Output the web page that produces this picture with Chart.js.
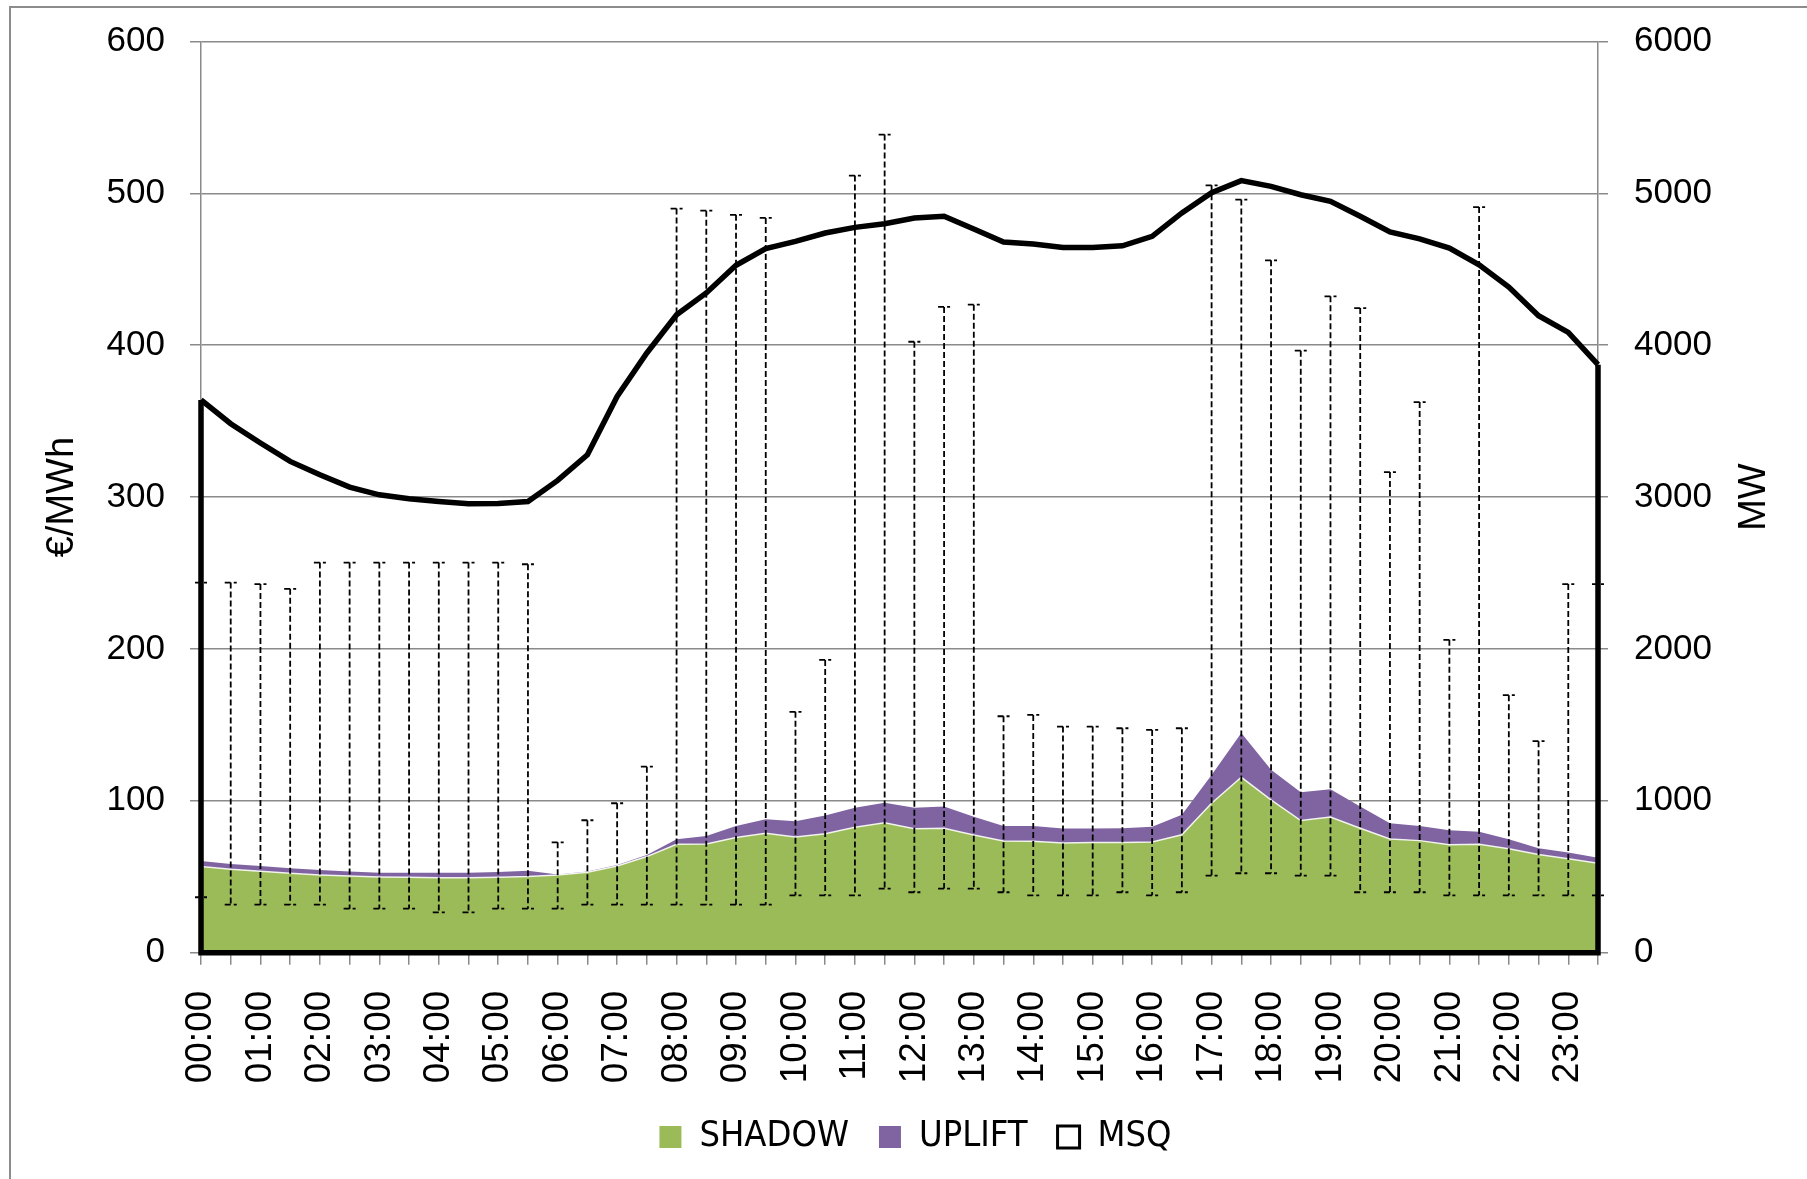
<!DOCTYPE html>
<html>
<head>
<meta charset="utf-8">
<script src="https://cdn.jsdelivr.net/npm/chart.js@4.4.1/dist/chart.umd.min.js"></script>
<style>
  html, body { margin: 0; padding: 0; background: #fff; overflow: hidden; }
  #wrap { position: relative; width: 1807px; height: 1179px; }
  #frame { position: absolute; left: 9px; top: 6px; width: 1900px; height: 1300px; border: 2px solid #8c8c8c; box-sizing: border-box; }
  #myChart { position: absolute; left: 0; top: 0; }
</style>
</head>
<body>
<div id="wrap">
  <div id="frame"></div>
  <canvas id="myChart" width="1807" height="1179"></canvas>
</div>
<script>
const horas = ['00:00','00:30','01:00','01:30','02:00','02:30','03:00','03:30','04:00','04:30','05:00','05:30',
  '06:00','06:30','07:00','07:30','08:00','08:30','09:00','09:30','10:00','10:30','11:00','11:30',
  '12:00','12:30','13:00','13:30','14:00','14:30','15:00','15:30','16:00','16:30','17:00','17:30',
  '18:00','18:30','19:00','19:30','20:00','20:30','21:00','21:30','22:00','22:30','23:00','23:30'];

/* €/MWh */
const shadow = [56.7, 54.9, 53.6, 52.3, 51.2, 50.5, 49.9, 49.7, 49.4, 49.4, 49.7, 50.1,
  51.2, 53.0, 57.1, 63.3, 71.4, 71.6, 75.8, 78.6, 76.2, 78.4, 82.6, 85.6,
  81.7, 81.9, 77.5, 73.6, 73.4, 72.3, 72.5, 72.6, 72.9, 77.7, 98.4, 115.5,
  100.6, 87.0, 89.4, 81.9, 74.9, 73.8, 71.1, 71.4, 68.5, 64.6, 61.9, 58.9];
const uplift = [3.7, 3.5, 3.5, 3.3, 3.3, 2.9, 2.8, 3.0, 3.3, 3.3, 3.5, 3.9,
  0.3, 0.4, 0.7, 1.1, 3.3, 5.3, 7.7, 9.3, 10.3, 11.9, 12.9, 13.2,
  13.8, 14.3, 12.1, 9.9, 10.1, 9.4, 9.2, 9.4, 10.1, 13.2, 18.6, 29.2,
  19.8, 18.7, 18.2, 14.3, 10.3, 9.7, 9.5, 8.3, 6.2, 4.2, 4.0, 3.7];

/* BARRAS DE ERROR (€/MWh) */
const errLow = [36.5, 31.6, 31.6, 31.6, 31.6, 29.0, 29.0, 29.0, 26.6, 26.6, 29.0, 29.0,
  29.0, 31.6, 31.6, 31.6, 31.6, 31.6, 31.6, 31.6, 37.8, 37.8, 37.8, 42.2,
  39.8, 42.2, 42.2, 39.8, 37.8, 37.8, 37.8, 39.8, 37.8, 39.8, 50.7, 52.3,
  52.3, 50.7, 50.7, 39.8, 39.8, 39.8, 37.8, 37.8, 37.8, 37.8, 37.8, 37.8];
const errHigh = [243.7, 243.7, 242.7, 239.6, 256.9, 256.9, 256.9, 256.9, 256.9, 256.9, 256.9, 255.8,
  72.7, 87.2, 98.4, 122.5, 490.0, 488.6, 485.9, 483.8, 158.6, 192.8, 511.7, 538.7,
  402.3, 425.2, 426.7, 155.7, 156.6, 148.9, 148.9, 147.8, 146.7, 147.8, 505.3, 495.9,
  455.9, 396.4, 432.2, 424.5, 316.5, 362.6, 206.0, 491.0, 169.6, 139.3, 242.7, 242.7];

/* MW */
const msq = [3640, 3483, 3356, 3235, 3147, 3066, 3015, 2989, 2971, 2956, 2958, 2971,
  3110, 3279, 3663, 3949, 4201, 4344, 4526, 4636, 4684, 4739, 4776, 4800,
  4838, 4849, 4765, 4680, 4666, 4644, 4644, 4655, 4717, 4871, 5005, 5084,
  5046, 4991, 4947, 4849, 4746, 4700, 4640, 4530, 4383, 4194, 4084, 3872];

const gris = '#8a8a8a';
const fuente = '"Liberation Sans", Arial, sans-serif';
const fuenteNarrow = '"Liberation Sans Narrow", "DejaVu Sans Condensed", sans-serif';

const extras = {
  id: 'extras',
  afterDatasetsDraw(chart) {
    const {ctx, scales: {x, y, y2}} = chart;
    ctx.save();
    /* BARRAS DE ERROR */
    ctx.strokeStyle = '#000';
    ctx.lineWidth = 1.8;
    ctx.setLineDash([6, 3]);
    horas.forEach((h, i) => {
      const px = x.getPixelForValue(i);
      const top = y.getPixelForValue(errHigh[i]);
      const bot = y.getPixelForValue(errLow[i]);
      ctx.beginPath();
      ctx.moveTo(px, top); ctx.lineTo(px, bot);
      ctx.moveTo(px - 6, top); ctx.lineTo(px + 6, top);
      ctx.moveTo(px - 6, bot); ctx.lineTo(px + 6, bot);
      ctx.stroke();
    });
    /* CONTORNO MSQ */
    ctx.setLineDash([]);
    ctx.lineWidth = 5.5;
    const x0 = x.getPixelForValue(0);
    const x1 = x.getPixelForValue(horas.length - 1);
    const base = y2.getPixelForValue(0);
    ctx.beginPath();
    ctx.moveTo(x0, y2.getPixelForValue(msq[0]));
    ctx.lineTo(x0, base);
    ctx.lineTo(x1, base);
    ctx.lineTo(x1, y2.getPixelForValue(msq[msq.length - 1]));
    ctx.stroke();
    ctx.restore();
  },
  afterDraw(chart) {
    const {ctx, scales: {y2}} = chart;
    ctx.save();
    ctx.translate(1755, (y2.top + y2.bottom) / 2);
    ctx.rotate(-Math.PI / 2);
    ctx.font = '38px ' + fuente;
    ctx.fillStyle = '#000';
    ctx.textAlign = 'center';
    ctx.textBaseline = 'middle';
    ctx.fillText('MW', 0, 0);
    ctx.restore();
  }
};

const ctx = document.getElementById('myChart');
const dataset = {
  labels: horas,
  datasets: [{
    label: 'SHADOW',
    data: shadow,
    yAxisID: 'y',
    backgroundColor: '#9bbb59',
    borderColor: 'rgba(255,255,255,0.85)',
    borderWidth: 1.5,
    fill: 'origin',
    pointRadius: 0,
    tension: 0
  }, {
    label: 'UPLIFT',
    data: uplift,
    yAxisID: 'y',
    backgroundColor: '#8064a2',
    borderColor: '#8064a2',
    borderWidth: 0,
    fill: '-1',
    pointRadius: 0,
    tension: 0
  }, {
    label: 'MSQ',
    data: msq,
    yAxisID: 'y2',
    borderColor: '#000',
    backgroundColor: '#fff',
    borderWidth: 5.5,
    fill: false,
    pointRadius: 0,
    tension: 0
  }]
};

const leyenda = {
  SHADOW: { fill: '#9bbb59', stroke: '#9bbb59', w: 0 },
  UPLIFT: { fill: '#8064a2', stroke: '#8064a2', w: 0 },
  MSQ: { fill: '#fff', stroke: '#000', w: 3 }
};

const config = {
  type: 'line',
  data: dataset,
  plugins: [extras],
  options: {
    responsive: false,
    devicePixelRatio: 1,
    animation: false,
    events: [],
    layout: { padding: { top: 41.5, bottom: 14, left: 24, right: 0 } },
    plugins: {
      tooltip: { enabled: false },
      legend: {
        position: 'bottom',
        labels: {
          boxWidth: 22,
          boxHeight: 22,
          padding: 30,
          color: '#000',
          font: { family: fuenteNarrow, size: 36 },
          generateLabels: (chart) => chart.data.datasets.map((ds, i) => ({
            text: ds.label,
            fillStyle: leyenda[ds.label].fill,
            strokeStyle: leyenda[ds.label].stroke,
            lineWidth: leyenda[ds.label].w,
            hidden: false,
            datasetIndex: i
          }))
        }
      }
    },
    scales: {
      x: {
        offset: false,
        grid: { drawOnChartArea: false, color: gris, lineWidth: 1.5, tickLength: 12 },
        border: { color: gris, width: 1.5 },
        ticks: {
          autoSkip: false,
          maxRotation: 90,
          minRotation: 90,
          padding: 26,
          color: '#000',
          font: { family: fuente, size: 37 },
          callback: function (v, i) { return horas[i].endsWith(':00') ? horas[i] : ''; }
        },
        afterFit: (s) => { s.height = 1179 - 14 - s.chart.legend.height - 952.7; }
      },
      y: {
        position: 'left',
        stacked: true,
        min: 0,
        max: 600,
        grid: { color: gris, lineWidth: 1.5, tickLength: 11, tickColor: gris },
        border: { color: gris, width: 1.5 },
        ticks: { stepSize: 100, padding: 25, color: '#000', font: { family: fuente, size: 35, lineHeight: 0.8 } },
        title: { display: true, text: '€/MWh', color: '#000', font: { family: fuente, size: 38 }, padding: { top: 16, bottom: 0 } },
        afterFit: (s) => { s.width = 177; }
      },
      y2: {
        position: 'right',
        min: 0,
        max: 6000,
        grid: { drawOnChartArea: false, color: gris, lineWidth: 1.5, tickLength: 10 },
        border: { color: gris, width: 1.5 },
        ticks: {
          stepSize: 1000,
          padding: 26,
          color: '#000',
          font: { family: fuente, size: 35, lineHeight: 0.8 },
          callback: (v) => String(v)
        },
        afterFit: (s) => { s.width = 209; }
      }
    }
  }
};

const chart = new Chart(ctx, config);
</script>
</body>
</html>
